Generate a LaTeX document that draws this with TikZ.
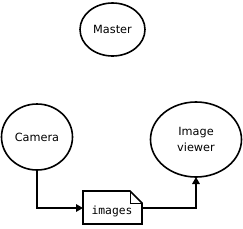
\documentclass[tikz,border=0pt]{standalone}
\usepackage{fontspec}
\setmainfont{DejaVu Sans}
\setmonofont{DejaVu Sans Mono}
\usetikzlibrary{arrows.meta}
\begin{document}
\begin{tikzpicture}[x=1pt,y=-1pt,
  lbl/.style={font=\fontsize{11.3}{16}\selectfont,align=center},
  outline/.style={line width=1.6pt},
  conn/.style={line width=1.6pt,-{Triangle[length=7pt,width=7.5pt]}}]
\useasboundingbox (0,0) rectangle (243,228);
\draw[outline] (112.5,29.5) ellipse [x radius=32.5, y radius=26.5];
\node[lbl] (master) at (112.5,29.5) {Master};
\draw[outline] (37,137) ellipse [x radius=35.5, y radius=33];
\node[lbl] (camera) at (37,137) {Camera};
\coordinate (camb) at (37,170);
\draw[outline] (196,139.5) ellipse [x radius=45.5, y radius=37.5];
\node[lbl] (viewer) at (196,139.5) {Image\\viewer};
\coordinate (viewb) at (196,177);
\draw[outline] (83,191) -- (130,191) -- (142,203) -- (142,224) -- (83,224) -- cycle;
\draw[line width=0.8pt] (130,191) -- (130,203) -- (142,203);
\node[lbl,font=\ttfamily\fontsize{11.3}{16}\selectfont] (images) at (112,211) {images};
\coordinate (iml) at (83,208);
\coordinate (imr) at (142,208);
\draw[conn] (camb) |- (iml);
\draw[conn] (imr) -| (viewb);
\end{tikzpicture}
\end{document}
